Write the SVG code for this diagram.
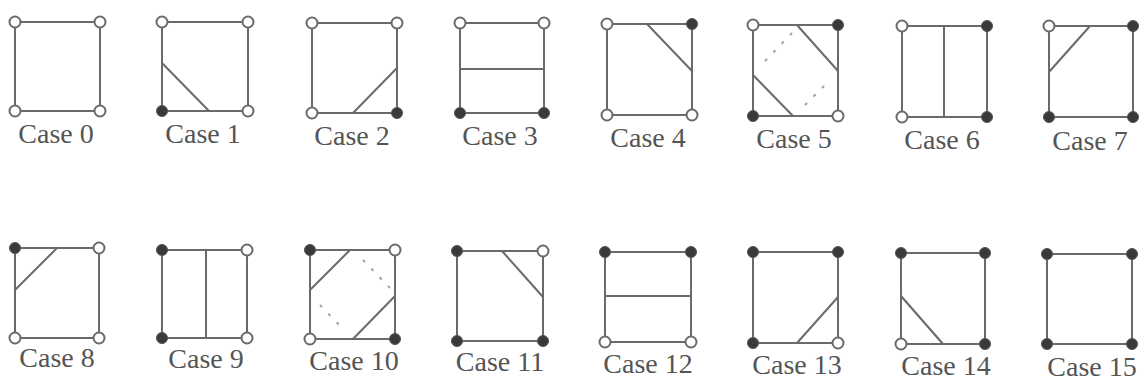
<svg xmlns="http://www.w3.org/2000/svg" width="1141" height="381" viewBox="0 0 1141 381">
<style>
.sq{fill:none;stroke:#6a6a6a;stroke-width:2}
.ln{fill:none;stroke:#6a6a6a;stroke-width:2}
.dl{fill:none;stroke:#a0a0a0;stroke-width:2;stroke-dasharray:3 9}
.o{fill:#fff;stroke:#6a6a6a;stroke-width:2}
.f{fill:#3a3a3a;stroke:#555;stroke-width:1}
.t{font-family:"Liberation Serif","Times New Roman",serif;font-size:28px;fill:#555;text-anchor:middle}
</style>
<rect width="1141" height="381" fill="#fff"/>
<g id="connectors">
<line class="ln" x1="162" y1="63" x2="209" y2="111"/>
<line class="ln" x1="353" y1="113" x2="397" y2="68"/>
<line class="ln" x1="460" y1="69" x2="544" y2="69"/>
<line class="ln" x1="647" y1="24" x2="692" y2="71"/>
<line class="ln" x1="797" y1="25" x2="838" y2="71"/>
<line class="ln" x1="753" y1="75" x2="793" y2="116"/>
<line class="dl" x1="765" y1="61" x2="792" y2="33"/>
<line class="dl" x1="805" y1="105" x2="830" y2="80"/>
<line class="ln" x1="944" y1="26" x2="944" y2="117"/>
<line class="ln" x1="1049" y1="72" x2="1090" y2="26"/>
<line class="ln" x1="57" y1="248" x2="15" y2="290"/>
<line class="ln" x1="206" y1="250" x2="206" y2="338"/>
<line class="ln" x1="350" y1="250" x2="310" y2="290"/>
<line class="ln" x1="353" y1="339" x2="395" y2="296"/>
<line class="dl" x1="363" y1="260" x2="390" y2="288"/>
<line class="dl" x1="320" y1="305" x2="344" y2="330"/>
<line class="ln" x1="502" y1="251" x2="543" y2="297"/>
<line class="ln" x1="605" y1="296" x2="691" y2="296"/>
<line class="ln" x1="797" y1="343" x2="838" y2="297"/>
<line class="ln" x1="901" y1="296" x2="943" y2="344"/>
</g>
<g id="case0"><rect class="sq" x="15" y="22" width="85" height="89"/><circle class="o" cx="15" cy="22" r="5.5"/><circle class="o" cx="100" cy="22" r="5.5"/><circle class="o" cx="15" cy="111" r="5.5"/><circle class="o" cx="100" cy="111" r="5.5"/><text class="t" x="56" y="143">Case 0</text></g>
<g id="case1"><rect class="sq" x="162" y="22" width="86" height="89"/><circle class="o" cx="162" cy="22" r="5.5"/><circle class="o" cx="248" cy="22" r="5.5"/><circle class="f" cx="162" cy="111" r="5.5"/><circle class="o" cx="248" cy="111" r="5.5"/><text class="t" x="203" y="143">Case 1</text></g>
<g id="case2"><rect class="sq" x="312" y="23" width="85" height="90"/><circle class="o" cx="312" cy="23" r="5.5"/><circle class="o" cx="397" cy="23" r="5.5"/><circle class="o" cx="312" cy="113" r="5.5"/><circle class="f" cx="397" cy="113" r="5.5"/><text class="t" x="352" y="145">Case 2</text></g>
<g id="case3"><rect class="sq" x="460" y="23" width="84" height="90"/><circle class="o" cx="460" cy="23" r="5.5"/><circle class="o" cx="544" cy="23" r="5.5"/><circle class="f" cx="460" cy="113" r="5.5"/><circle class="f" cx="544" cy="113" r="5.5"/><text class="t" x="500" y="145">Case 3</text></g>
<g id="case4"><rect class="sq" x="607" y="24" width="85" height="91"/><circle class="o" cx="607" cy="24" r="5.5"/><circle class="f" cx="692" cy="24" r="5.5"/><circle class="o" cx="607" cy="115" r="5.5"/><circle class="o" cx="692" cy="115" r="5.5"/><text class="t" x="648" y="147">Case 4</text></g>
<g id="case5"><rect class="sq" x="753" y="25" width="85" height="91"/><circle class="o" cx="753" cy="25" r="5.5"/><circle class="f" cx="838" cy="25" r="5.5"/><circle class="f" cx="753" cy="116" r="5.5"/><circle class="o" cx="838" cy="116" r="5.5"/><text class="t" x="794" y="148">Case 5</text></g>
<g id="case6"><rect class="sq" x="902" y="26" width="85" height="91"/><circle class="o" cx="902" cy="26" r="5.5"/><circle class="f" cx="987" cy="26" r="5.5"/><circle class="o" cx="902" cy="117" r="5.5"/><circle class="f" cx="987" cy="117" r="5.5"/><text class="t" x="942" y="149">Case 6</text></g>
<g id="case7"><rect class="sq" x="1049" y="26" width="84" height="91"/><circle class="o" cx="1049" cy="26" r="5.5"/><circle class="f" cx="1133" cy="26" r="5.5"/><circle class="f" cx="1049" cy="117" r="5.5"/><circle class="f" cx="1133" cy="117" r="5.5"/><text class="t" x="1090" y="150">Case 7</text></g>
<g id="case8"><rect class="sq" x="15" y="248" width="84" height="90"/><circle class="f" cx="15" cy="248" r="5.5"/><circle class="o" cx="99" cy="248" r="5.5"/><circle class="o" cx="15" cy="338" r="5.5"/><circle class="o" cx="99" cy="338" r="5.5"/><text class="t" x="57" y="367">Case 8</text></g>
<g id="case9"><rect class="sq" x="162" y="250" width="85" height="88"/><circle class="f" cx="162" cy="250" r="5.5"/><circle class="o" cx="247" cy="250" r="5.5"/><circle class="f" cx="162" cy="338" r="5.5"/><circle class="o" cx="247" cy="338" r="5.5"/><text class="t" x="206" y="368">Case 9</text></g>
<g id="case10"><rect class="sq" x="310" y="250" width="85" height="89"/><circle class="f" cx="310" cy="250" r="5.5"/><circle class="o" cx="395" cy="250" r="5.5"/><circle class="o" cx="310" cy="339" r="5.5"/><circle class="f" cx="395" cy="339" r="5.5"/><text class="t" x="354" y="370">Case 10</text></g>
<g id="case11"><rect class="sq" x="457" y="251" width="86" height="90"/><circle class="f" cx="457" cy="251" r="5.5"/><circle class="o" cx="543" cy="251" r="5.5"/><circle class="f" cx="457" cy="341" r="5.5"/><circle class="f" cx="543" cy="341" r="5.5"/><text class="t" x="500" y="371">Case 11</text></g>
<g id="case12"><rect class="sq" x="605" y="252" width="86" height="90"/><circle class="f" cx="605" cy="252" r="5.5"/><circle class="f" cx="691" cy="252" r="5.5"/><circle class="o" cx="605" cy="342" r="5.5"/><circle class="o" cx="691" cy="342" r="5.5"/><text class="t" x="648" y="373">Case 12</text></g>
<g id="case13"><rect class="sq" x="753" y="252" width="85" height="91"/><circle class="f" cx="753" cy="252" r="5.5"/><circle class="f" cx="838" cy="252" r="5.5"/><circle class="f" cx="753" cy="343" r="5.5"/><circle class="o" cx="838" cy="343" r="5.5"/><text class="t" x="797" y="374">Case 13</text></g>
<g id="case14"><rect class="sq" x="901" y="253" width="84" height="91"/><circle class="f" cx="901" cy="253" r="5.5"/><circle class="f" cx="985" cy="253" r="5.5"/><circle class="o" cx="901" cy="344" r="5.5"/><circle class="f" cx="985" cy="344" r="5.5"/><text class="t" x="946" y="375">Case 14</text></g>
<g id="case15"><rect class="sq" x="1047" y="254" width="85" height="90"/><circle class="f" cx="1047" cy="254" r="5.5"/><circle class="f" cx="1132" cy="254" r="5.5"/><circle class="f" cx="1047" cy="344" r="5.5"/><circle class="f" cx="1132" cy="344" r="5.5"/><text class="t" x="1092" y="376">Case 15</text></g>
</svg>
